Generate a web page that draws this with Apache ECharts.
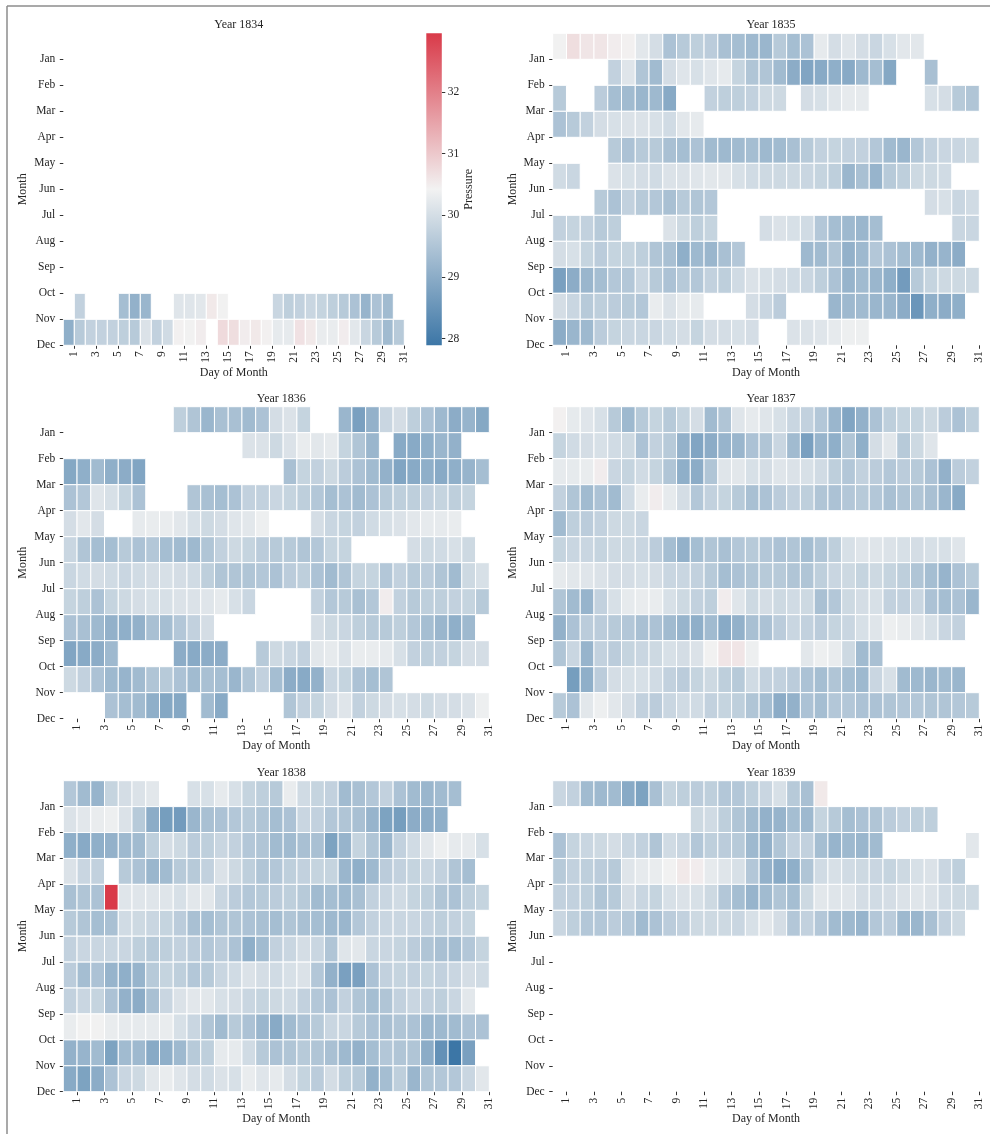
<!DOCTYPE html>
<html>
<head>
<meta charset="utf-8">
<script src="https://cdn.jsdelivr.net/npm/echarts@6/dist/echarts.min.js"></script>
<style>
  html, body { margin: 0; padding: 0; background: #ffffff; }
  #chart { width: 990px; height: 1134px; }
</style>
</head>
<body>
<div id="chart"></div>
<script>
// Daily barometric pressure, one heatmap per year: rows = month, columns = day of month.
const MONTHS = ['Jan', 'Feb', 'Mar', 'Apr', 'May', 'Jun', 'Jul', 'Aug', 'Sep', 'Oct', 'Nov', 'Dec'];
const DAY_TICKS = [1, 3, 5, 7, 9, 11, 13, 15, 17, 19, 21, 23, 25, 27, 29, 31];
const MONTH_TICKS = [1, 2, 3, 4, 5, 6, 7, 8, 9, 10, 11, 12];
const PRESSURE_TICKS = [28, 29, 30, 31, 32];
const YEARS = [1834, 1835, 1836, 1837, 1838, 1839];

const _ = null; // no reading that day

const p1834 = [
  [], [], [], [], [], [], [], [], [], [],
  [_, 29.75, _, _, _, 29.35, 29.1, 29.2, _, _, 30.15, 30.15, 30.2, 30.55, 30.4, _, _, _, _, 29.85, 29.7, 29.75, 29.85, 29.8, 29.7, 29.6, 29.45, 29.15, 29.45, 29.3],
  [29.05, 29.6, 29.75, 29.75, 29.75, 29.7, 29.6, 30.1, 29.75, 29.95, 30.45, 30.4, 30.5, _, 30.75, 30.7, 30.5, 30.55, 30.45, 30.25, 30.25, 30.65, 30.55, 30.3, 30.3, 30.5, 30.2, 29.85, 29.6, 29.3, 29.6]
];

const p1835 = [
  [30.4, 30.7, 30.6, 30.6, 30.5, 30.45, 30.2, 30.0, 29.45, 29.6, 29.7, 29.65, 29.4, 29.35, 29.25, 29.2, 29.6, 29.35, 29.45, 30.25, 30.0, 30.15, 30.0, 29.85, 30.05, 30.2, 30.2],
  [_, _, _, _, 29.75, 30.15, 29.5, 29.3, 30.0, 30.15, 30.05, 30.15, 30.25, 29.8, 29.5, 29.5, 29.3, 29.0, 28.85, 28.95, 29.05, 28.95, 29.25, 29.35, 28.9, _, _, 29.4],
  [29.6, _, _, 29.65, 29.35, 29.3, 29.2, 29.25, 28.95, _, _, 29.75, 29.7, 29.7, 29.75, 29.9, 29.9, _, 30.0, 30.05, 30.15, 30.25, 30.25, _, _, _, _, 30.05, 30.0, 29.6, 29.5],
  [29.45, 29.6, 29.75, 30.0, 30.05, 30.1, 30.1, 30.05, 29.95, 30.2, 30.25],
  [_, _, _, _, 29.6, 29.45, 29.6, 29.6, 29.4, 29.35, 29.45, 29.3, 29.25, 29.3, 29.35, 29.25, 29.3, 29.4, 29.6, 29.75, 29.8, 29.75, 29.75, 29.55, 29.3, 29.2, 29.55, 29.75, 29.85, 29.85, 29.9],
  [29.95, 29.85, _, _, 30.1, 30.05, 30.0, 29.95, 30.1, 30.1, 30.15, 30.2, 30.2, 30.05, 29.95, 29.9, 29.9, 29.9, 29.85, 29.8, 29.7, 29.2, 29.4, 29.15, 29.6, 29.7, 29.9, 29.9, 29.95],
  [_, _, _, 29.6, 29.45, 29.75, 29.6, 29.55, 29.4, 29.6, 29.5, 29.55, _, _, _, _, _, _, _, _, _, _, _, _, _, _, _, 30.0, 30.05, 29.85, 29.95],
  [29.75, 29.8, 29.75, 29.6, 29.7, _, _, _, 30.1, 29.9, 29.7, 29.8, _, _, _, 30.0, 30.1, 30.05, 29.95, 29.55, 29.35, 29.25, 29.2, 29.35, _, _, _, _, _, 29.85, 29.85],
  [30.0, 30.05, 29.8, 29.65, 29.8, 29.8, 29.7, 29.5, 29.4, 29.05, 29.25, 29.2, 29.4, 29.55, _, _, _, _, 29.25, 29.3, 29.5, 29.1, 29.25, 29.55, 29.45, 29.35, 29.25, 29.1, 29.15, 29.0],
  [28.75, 29.0, 29.2, 29.35, 29.55, 29.55, 29.85, 29.6, 29.45, 29.6, 29.55, 29.75, 29.7, 29.95, 30.1, 30.05, 30.0, 29.95, 29.85, 29.7, 29.45, 29.15, 29.3, 29.2, 29.05, 28.65, 29.6, 29.8, 29.9, 29.9, 29.9],
  [30.0, 29.85, 29.6, 29.7, 29.65, 29.6, 29.55, 30.3, 30.1, 30.25, 30.25, _, _, _, 30.0, 29.85, 29.65, _, _, _, 29.2, 29.25, 29.3, 29.2, 29.2, 29.0, 28.55, 29.05, 29.0, 29.05],
  [29.0, 29.2, 29.25, 29.65, 29.8, 29.85, 29.85, 29.85, 29.95, 30.0, 29.8, 30.0, 30.0, 30.05, 30.0, _, _, 30.1, 30.1, 30.15, 30.25, 30.35, 30.35]
];

const p1836 = [
  [_, _, _, _, _, _, _, _, 29.7, 29.5, 29.2, 29.4, 29.4, 29.3, 29.45, 30.0, 30.1, 29.8, _, _, 29.2, 28.75, 29.1, 29.85, 30.0, 29.7, 29.45, 29.25, 29.0, 29.15, 28.9],
  [_, _, _, _, _, _, _, _, _, _, _, _, _, 30.1, 30.1, 29.9, 30.1, 30.3, 30.2, 30.25, 29.8, 29.5, 29.2, _, 28.95, 28.95, 29.05, 29.2, 29.1],
  [28.9, 29.05, 29.3, 29.05, 29.0, 28.85, _, _, _, _, _, _, _, _, _, _, 29.4, 29.8, 29.75, 29.9, 29.65, 29.45, 29.3, 29.1, 28.85, 28.95, 29.05, 28.95, 29.05, 29.15, 29.35],
  [29.45, 29.55, 30.15, 30.05, 29.8, 29.45, _, _, _, 29.5, 29.4, 29.35, 29.45, 29.75, 29.75, 29.85, 29.8, 29.7, 29.55, 29.35, 29.45, 29.3, 29.45, 29.6, 29.7, 29.7, 29.75, 29.8, 29.7, 29.8],
  [30.0, 30.2, 30.0, _, _, 30.25, 30.3, 30.3, 30.2, 30.05, 29.9, 30.0, 30.15, 30.2, 30.35, _, _, _, 30.0, 29.85, 29.8, 29.75, 29.95, 30.05, 30.1, 30.2, 30.25, 30.25, 30.3],
  [29.85, 29.5, 29.35, 29.35, 29.6, 29.45, 29.55, 29.35, 29.3, 29.25, 29.5, 29.75, 29.9, 29.8, 29.65, 29.6, 29.6, 29.5, 29.55, 29.8, 29.8, _, _, _, _, 30.0, 29.9, 29.95, 30.05, 29.9],
  [29.85, 29.95, 30.0, 29.95, 29.85, 29.95, 30.0, 30.05, 30.0, 29.95, 29.7, 29.5, 29.5, 29.5, 29.55, 29.45, 29.65, 29.7, 29.45, 29.3, 29.5, 29.8, 29.8, 29.55, 29.75, 29.6, 29.65, 29.5, 29.3, 29.9, 30.05],
  [29.8, 29.7, 29.45, 29.8, 29.9, 30.0, 30.05, 30.05, 30.1, 30.1, 30.15, 30.25, 30.05, 29.85, _, _, _, _, 29.75, 29.55, 29.6, 29.4, 29.55, 30.5, 29.75, 29.6, 29.7, 29.7, 29.75, 29.8, 29.6],
  [29.45, 29.4, 29.25, 29.1, 29.05, 29.1, 29.4, 29.35, 29.55, 29.75, 30.0, _, _, _, _, _, _, _, 30.0, 29.9, 29.85, 29.7, 29.6, 29.6, 29.7, 29.55, 29.35, 29.2, 29.05, 29.25],
  [28.85, 28.95, 29.0, 29.25, _, _, _, _, 29.0, 28.95, 29.0, 29.0, _, _, 29.6, 29.9, 29.85, 29.75, 30.2, 30.25, 30.1, 30.3, 30.3, 30.25, 30.05, 29.75, 29.7, 29.75, 29.8, 30.0, 30.0],
  [29.9, 29.75, 29.45, 29.25, 29.15, 29.3, 29.5, 29.6, 29.45, 29.3, 29.4, 29.35, 29.2, 29.5, 29.75, 29.35, 29.0, 28.95, 29.1, 29.85, 29.8, 29.45, 29.35, 29.5],
  [_, _, _, 29.45, 29.35, 29.3, 29.05, 28.9, 28.9, _, 29.3, 28.95, _, _, _, _, 29.5, 29.75, 29.8, 30.0, 30.15, 29.75, 29.9, 30.0, 30.05, 30.0, 29.9, 30.0, 30.0, 30.1, 30.35]
];

const p1837 = [
  [30.45, 30.25, 30.15, 30.05, 29.6, 29.25, 29.6, 29.8, 29.6, 29.8, 30.0, 29.3, 29.5, 30.15, 30.25, 30.15, 30.05, 29.85, 29.75, 29.55, 29.2, 28.85, 29.1, 29.45, 29.7, 29.8, 29.8, 29.9, 29.65, 29.45, 29.7],
  [29.8, 29.95, 30.0, 30.05, 29.95, 29.9, 29.45, 29.75, 29.6, 29.1, 28.85, 29.0, 29.15, 29.2, 29.45, 29.5, 29.85, 29.3, 28.75, 29.15, 29.05, 29.5, 29.05, 30.0, 30.2, 29.6, 29.9, 30.15],
  [30.25, 30.25, 30.3, 30.5, 29.85, 29.8, 29.95, 29.8, 29.5, 29.05, 29.0, 29.5, 30.15, 30.2, 30.05, 30.0, 30.15, 30.1, 30.05, 29.95, 29.7, 29.55, 29.75, 29.65, 29.55, 29.65, 29.6, 29.45, 29.1, 29.65, 29.75],
  [29.75, 29.5, 29.3, 29.45, 29.3, 29.95, 30.3, 30.5, 30.25, 30.0, 29.55, 29.75, 29.8, 29.6, 29.4, 29.45, 29.65, 29.75, 29.7, 29.5, 29.45, 29.55, 29.6, 29.55, 29.4, 29.5, 29.5, 29.4, 29.2, 28.95],
  [29.3, 29.7, 29.65, 29.75, 29.9, 29.9, 29.85],
  [29.8, 29.85, 29.85, 29.8, 29.9, 29.9, 29.85, 29.65, 29.35, 29.1, 29.35, 29.5, 29.4, 29.55, 29.6, 29.55, 29.45, 29.5, 29.35, 29.5, 29.7, 30.05, 30.15, 30.15, 30.1, 30.05, 30.0, 30.05, 30.05, 30.15],
  [30.25, 30.2, 30.15, 30.1, 30.0, 30.0, 30.05, 30.0, 29.85, 29.85, 29.75, 29.6, 29.35, 29.45, 29.5, 29.6, 29.6, 29.5, 29.5, 29.7, 29.85, 29.9, 29.8, 29.9, 29.8, 29.7, 29.5, 29.35, 29.15, 29.45, 29.6],
  [29.5, 29.3, 29.15, 29.75, 30.05, 30.25, 30.3, 30.3, 30.05, 29.9, 29.75, 29.7, 30.5, 30.15, 29.9, 30.0, 29.9, 29.95, 29.9, 29.4, 29.55, 29.9, 30.0, 30.05, 29.75, 29.75, 29.85, 29.45, 29.35, 29.45, 29.2],
  [29.1, 29.45, 29.65, 29.65, 29.6, 29.55, 29.4, 29.45, 29.3, 29.15, 29.05, 29.3, 28.95, 29.1, 29.4, 29.45, 29.65, 29.85, 29.75, 29.65, 29.8, 29.85, 30.05, 30.15, 30.35, 30.3, 30.15, 30.05, 29.85, 29.75],
  [29.5, 29.85, 29.15, 29.75, 29.65, 29.8, 29.85, 29.9, 30.05, 30.0, 30.1, 30.4, 30.6, 30.6, 30.35, _, _, _, 30.2, 30.35, 30.3, 29.9, 29.3, 29.4],
  [_, 28.7, 29.05, 29.65, 30.0, 30.05, 30.05, 29.95, 29.75, 29.65, 29.8, 29.9, 29.7, 29.6, 29.95, 29.75, 29.75, 29.65, 29.45, 29.35, 29.5, 29.35, 29.25, 29.85, 30.05, 29.3, 29.25, 29.2, 29.3, 29.2],
  [29.6, 29.45, 30.2, 30.35, 30.2, 30.0, 29.75, 29.65, 29.85, 29.95, 29.95, 29.75, 29.8, 29.7, 29.5, 29.35, 29.0, 29.1, 29.45, 29.35, 29.55, 29.55, 29.45, 29.45, 29.5, 29.55, 29.55, 29.5, 29.5, 29.55, 29.6]
];

const p1838 = [
  [29.55, 29.3, 29.15, 29.8, 30.0, 30.1, 30.2, _, _, 30.05, 30.05, 30.25, 30.05, 29.8, 29.7, 29.6, 30.3, 29.95, 29.8, 29.75, 29.3, 29.4, 29.55, 29.75, 29.45, 29.3, 29.2, 29.3, 29.35],
  [30.1, 30.2, 30.3, 30.35, 30.1, 29.6, 29.0, 28.7, 28.65, 29.2, 29.4, 29.45, 29.55, 29.6, 29.5, 29.35, 29.45, 29.85, 29.75, 29.55, 29.5, 29.4, 29.15, 28.8, 28.7, 29.0, 29.0, 29.05],
  [29.05, 28.95, 29.05, 29.1, 29.25, 29.3, 29.7, 30.0, 29.9, 29.65, 29.7, 29.85, 29.75, 29.55, 29.5, 29.3, 29.3, 29.4, 29.4, 28.8, 29.15, 29.8, 29.5, 29.2, 29.75, 29.95, 30.2, 30.35, 30.25, 30.25, 30.05],
  [30.1, 29.85, 29.75, _, 29.6, 29.45, 29.2, 29.3, 29.6, 29.6, 29.75, 30.1, 29.9, 29.7, 29.5, 29.55, 29.7, 29.75, 29.8, 29.8, 29.2, 29.05, 29.25, 29.65, 29.75, 29.8, 29.85, 29.75, 29.5, 29.35],
  [29.4, 29.5, 29.45, 32.95, 30.15, 30.15, 30.15, 30.15, 30.05, 30.2, 30.2, 29.85, 29.65, 29.55, 29.6, 29.65, 29.7, 29.6, 29.3, 29.35, 29.25, 29.4, 29.75, 29.85, 29.95, 29.8, 29.7, 29.5, 29.45, 29.7, 29.8],
  [29.6, 29.5, 29.35, 29.4, 29.95, 29.9, 29.85, 29.8, 29.65, 29.4, 29.35, 29.5, 29.5, 29.45, 29.4, 29.35, 29.5, 29.4, 29.35, 29.25, 29.2, 29.55, 29.75, 29.85, 29.85, 29.85, 29.75, 29.7, 29.75, 29.8],
  [29.75, 29.85, 29.85, 29.85, 29.85, 29.7, 29.6, 29.7, 29.75, 29.65, 29.55, 29.65, 29.45, 29.05, 29.3, 29.75, 29.85, 30.0, 29.85, 29.5, 30.15, 30.2, 29.85, 29.85, 29.8, 29.65, 29.5, 29.4, 29.35, 29.55, 29.8],
  [29.65, 29.35, 29.45, 29.15, 29.05, 29.15, 29.6, 29.8, 29.7, 29.55, 29.6, 29.85, 29.95, 30.1, 30.0, 29.95, 30.05, 30.1, 29.55, 29.1, 28.75, 28.75, 29.45, 29.75, 29.8, 29.75, 29.8, 29.75, 29.85, 30.0, 29.95],
  [29.75, 29.85, 29.8, 29.45, 29.1, 29.0, 29.4, 29.85, 30.1, 30.2, 30.2, 30.05, 30.0, 29.85, 29.8, 29.9, 29.95, 29.75, 29.55, 29.45, 29.75, 29.5, 29.35, 29.5, 29.75, 29.85, 29.75, 29.7, 29.85, 30.2],
  [30.3, 30.4, 30.4, 30.3, 30.25, 30.25, 30.25, 30.3, 30.05, 29.85, 29.5, 29.3, 29.6, 29.45, 29.2, 28.95, 29.3, 29.45, 29.6, 29.85, 29.85, 29.6, 29.45, 29.4, 29.5, 29.45, 29.2, 29.25, 29.3, 29.45, 29.45],
  [29.1, 29.15, 29.3, 28.8, 29.3, 29.25, 28.95, 29.05, 29.25, 29.6, 29.7, 30.25, 30.25, 29.95, 29.6, 29.45, 29.5, 29.6, 29.5, 29.4, 29.25, 29.1, 29.35, 29.55, 29.5, 29.5, 29.0, 28.45, 27.89, 28.75],
  [28.95, 28.8, 29.0, 29.45, 29.85, 29.9, 30.2, 30.3, 30.15, 30.0, 29.95, 30.1, 30.05, 30.3, 30.15, 30.25, 30.0, 29.8, 29.65, 30.0, 29.7, 29.6, 29.1, 29.35, 29.7, 29.2, 29.5, 29.55, 29.55, 29.85, 30.2]
];

const p1839 = [
  [29.85, 29.75, 29.3, 29.25, 29.3, 28.95, 28.8, 29.4, 29.8, 29.7, 29.65, 29.7, 29.55, 29.55, 29.7, 29.85, 30.05, 29.6, 29.4, 30.55],
  [_, _, _, _, _, _, _, _, _, _, 29.9, 29.95, 29.7, 29.5, 29.3, 29.1, 29.15, 29.35, 29.25, 29.8, 29.6, 29.35, 29.45, 29.5, 29.65, 29.75, 29.7, 29.7],
  [29.45, 29.8, 29.85, 29.9, 30.0, 29.85, 29.75, 29.5, 29.95, 29.85, 29.55, 29.7, 29.65, 29.6, 29.25, 29.1, 29.5, 29.75, 29.75, 29.35, 29.15, 29.25, 29.2, 29.3, _, _, _, _, _, _, 30.2],
  [29.6, 29.75, 29.7, 29.65, 29.6, 30.15, 30.25, 30.3, 30.4, 30.55, 30.5, 30.25, 30.15, 30.05, 29.55, 29.1, 28.95, 29.05, 29.5, 29.95, 30.05, 29.95, 29.9, 29.85, 29.8, 29.9, 30.05, 30.1, 29.85, 29.7],
  [29.75, 29.75, 29.7, 29.5, 29.6, 30.0, 29.85, 29.8, 30.05, 30.1, 30.05, 29.9, 29.55, 29.35, 29.15, 29.3, 29.5, 29.35, 29.9, 30.2, 30.15, 30.15, 30.0, 29.95, 30.0, 30.1, 30.15, 30.1, 29.95, 29.9, 29.9],
  [29.85, 29.7, 29.55, 29.55, 29.65, 29.55, 29.3, 29.45, 29.65, 29.75, 29.9, 29.9, 29.9, 29.85, 30.05, 30.2, 30.0, 29.55, 29.75, 29.55, 29.3, 29.25, 29.15, 29.55, 29.65, 29.25, 29.2, 29.4, 29.75, 29.9],
  [], [], [], [], [], []
];

const PRESSURE_BY_YEAR = [p1834, p1835, p1836, p1837, p1838, p1839];

// Diverging blue - light grey - red palette
const PALETTE = ['#3c76a6', '#f2f2f2', '#d93a49'];

// Colour scale spans the full range of readings
const allValues = PRESSURE_BY_YEAR.flat(2).filter(v => v !== null);
const V_MIN = Math.min(...allValues);
const V_MAX = Math.max(...allValues);

// Grid boxes for the six yearly panels and the colour bar
const FONT = 'Liberation Serif';
const TEXT = '#262626';
const panels = [
  { left: 63.3,  top: 33.3,  width: 341,   height: 312 },
  { left: 552.7, top: 33.3,  width: 426.6, height: 312 },
  { left: 63.3,  top: 406.7, width: 426,   height: 312 },
  { left: 552.7, top: 406.7, width: 426.6, height: 312 },
  { left: 63.3,  top: 780.7, width: 426,   height: 311 },
  { left: 552.7, top: 780.7, width: 426.6, height: 311 }
];
const colorBarBox = { left: 426.3, top: 33.3, width: 15.5, height: 312 };

function toCells(rows) {
  const cells = [];
  rows.forEach((row, m) => {
    row.forEach((v, d) => {
      if (v !== null && v !== undefined) cells.push([d, m, v]);
    });
  });
  return cells;
}

function renderCell(params, api) {
  const d = api.value(0), m = api.value(1);
  const p0 = api.coord([d, m]);
  const p1 = api.coord([d + 1, m + 1]);
  return {
    type: 'rect',
    shape: { x: p0[0], y: p0[1], width: p1[0] - p0[0], height: p1[1] - p0[1] },
    style: { fill: api.visual('color'), stroke: '#ffffff', lineWidth: 1 }
  };
}

function renderColorBar(params, api) {
  const top = api.coord([0, api.value(2)]);
  const bottom = api.coord([1, api.value(1)]);
  return {
    type: 'rect',
    shape: { x: top[0], y: top[1], width: bottom[0] - top[0], height: bottom[1] - top[1] },
    style: {
      fill: new echarts.graphic.LinearGradient(0, 0, 0, 1, [
        { offset: 0, color: PALETTE[2] },
        { offset: 0.5, color: PALETTE[1] },
        { offset: 1, color: PALETTE[0] }
      ])
    }
  };
}

const tickLabelStyle = { fontFamily: FONT, fontSize: 11.5, color: TEXT };
const nameStyle = { fontFamily: FONT, fontSize: 12, color: TEXT };
const tickStyle = { show: true, length: 3.5, lineStyle: { color: '#333333', width: 1 } };

const grids = [], xAxes = [], yAxes = [], series = [], titles = [];

panels.forEach((box, i) => {
  grids.push({ left: box.left, top: box.top, width: box.width, height: box.height });
  titles.push({
    text: 'Year ' + YEARS[i],
    left: box.left + box.width / 2,
    top: box.top - 19,
    textAlign: 'center',
    textStyle: { fontFamily: FONT, fontSize: 12, fontWeight: 'normal', color: TEXT }
  });
  xAxes.push({
    type: 'value', gridIndex: i, min: 0, max: 31, position: 'bottom',
    axisLine: { show: false, onZero: false },
    splitLine: { show: false },
    axisTick: Object.assign({ customValues: DAY_TICKS }, tickStyle),
    axisLabel: Object.assign({ customValues: DAY_TICKS, rotate: 90, margin: 6 }, tickLabelStyle),
    name: 'Day of Month', nameLocation: 'middle', nameGap: 21,
    nameTextStyle: nameStyle
  });
  yAxes.push({
    type: 'value', gridIndex: i, min: 0, max: 12, inverse: true, position: 'left',
    axisLine: { show: false, onZero: false },
    splitLine: { show: false },
    axisTick: Object.assign({ customValues: MONTH_TICKS }, tickStyle),
    axisLabel: Object.assign({
      customValues: MONTH_TICKS, margin: 8,
      formatter: v => MONTHS[v - 1] || ''
    }, tickLabelStyle),
    name: 'Month', nameLocation: 'middle', nameGap: 34, nameRotate: 90,
    nameTextStyle: nameStyle
  });
  series.push({
    type: 'custom',
    name: String(YEARS[i]),
    xAxisIndex: i, yAxisIndex: i,
    renderItem: renderCell,
    encode: { x: 0, y: 1 },
    data: toCells(PRESSURE_BY_YEAR[i])
  });
});

// Colour bar next to the first panel
grids.push({ left: colorBarBox.left, top: colorBarBox.top, width: colorBarBox.width, height: colorBarBox.height });
xAxes.push({ type: 'value', gridIndex: 6, min: 0, max: 1, show: false });
yAxes.push({
  type: 'value', gridIndex: 6, min: V_MIN, max: V_MAX, position: 'right',
  axisLine: { show: false, onZero: false },
  splitLine: { show: false },
  axisTick: Object.assign({ customValues: PRESSURE_TICKS }, tickStyle),
  axisLabel: Object.assign({ customValues: PRESSURE_TICKS, margin: 6 }, tickLabelStyle),
  name: 'Pressure', nameLocation: 'middle', nameGap: 20, nameRotate: 90,
  nameTextStyle: nameStyle
});
series.push({
  type: 'custom',
  xAxisIndex: 6, yAxisIndex: 6,
  renderItem: renderColorBar,
  encode: { x: 0, y: [1, 2] },
  data: [[0, V_MIN, V_MAX]]
});

const chart = echarts.init(document.getElementById('chart'), null, { renderer: 'canvas' });
chart.setOption({
  backgroundColor: '#ffffff',
  animation: false,
  title: titles,
  grid: grids,
  xAxis: xAxes,
  yAxis: yAxes,
  visualMap: {
    type: 'continuous', show: false,
    min: V_MIN, max: V_MAX, dimension: 2,
    seriesIndex: [0, 1, 2, 3, 4, 5],
    inRange: { color: PALETTE }
  },
  series: series,
  graphic: [
    { type: 'line', shape: { x1: 7, y1: 6, x2: 990, y2: 6 }, style: { stroke: '#8c8c8c', lineWidth: 1.5 }, silent: true },
    { type: 'line', shape: { x1: 7, y1: 6, x2: 7, y2: 1134 }, style: { stroke: '#8c8c8c', lineWidth: 1.5 }, silent: true }
  ]
});
</script>
</body>
</html>
